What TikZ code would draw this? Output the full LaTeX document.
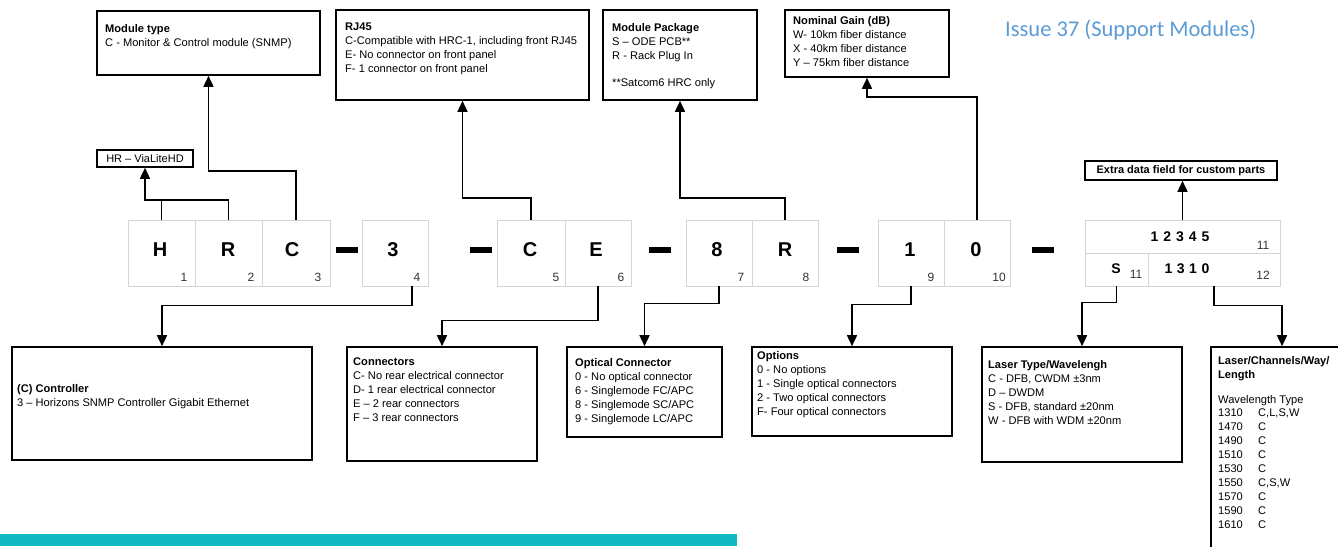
\documentclass[tikz,border=0pt]{standalone}
\usepackage{fontspec}
\setmainfont{Liberation Sans}
\newfontfamily\issuefont{Carlito}
\usetikzlibrary{arrows.meta,calc}
\definecolor{issueblue}{RGB}{91,155,213}
\definecolor{tealbar}{RGB}{13,184,192}
\definecolor{cellgray}{RGB}{212,212,212}
\begin{document}
\begin{tikzpicture}[x=1pt,y=-1pt,
  box/.style={draw=black, line width=1.6pt, fill=white, inner sep=0pt},
  cell/.style={draw=cellgray, line width=0.6pt, fill=white, inner sep=0pt, minimum height=66pt},
  halfcell/.style={draw=cellgray, line width=0.6pt, fill=white, inner sep=0pt, minimum height=33pt},
  letter/.style={font=\fontsize{20}{20}\selectfont\bfseries, inner sep=0pt},
  digits/.style={font=\fontsize{14}{14}\selectfont\bfseries, inner sep=0pt},
  subnum/.style={font=\fontsize{12}{12}\selectfont, text=black!80, inner sep=0pt},
  dashbar/.style={fill=black, inner sep=0pt, minimum width=22pt, minimum height=6pt},
  txt/.style={anchor=north west, inner sep=0pt, align=left, font=\fontsize{11.1}{14}\selectfont},
  arr/.style={line width=1.6pt, -{Triangle[width=10pt,length=11pt]}},
  plain/.style={line width=1.6pt}
]
\useasboundingbox (0,0) rectangle (1338,546);

% ---------- top boxes ----------
\node[box, minimum width=223pt, minimum height=64pt] (mt) at (208.5,43) {};
\node[txt] (mtt) at (105,24) {\textbf{Module type}\\C - Monitor \& Control module (SNMP)};

\node[box, minimum width=96pt, minimum height=17pt, font=\fontsize{11}{12}\selectfont] (hr) at (145,158.5) {HR -- ViaLiteHD};

\node[box, minimum width=253pt, minimum height=90pt] (rj) at (462.5,55) {};
\node[txt] (rjt) at (345,23) {\textbf{RJ45}\\C-Compatible with HRC-1, including front RJ45\\E- No connector on front panel\\F- 1 connector on front panel};

\node[box, minimum width=154pt, minimum height=90pt] (mp) at (680,55) {};
\node[txt] (mpt) at (612,23) {\textbf{Module Package}\\S -- ODE PCB**\\R - Rack Plug In\\[13pt]**Satcom6 HRC only};

\node[box, minimum width=164pt, minimum height=67pt] (ng) at (867,43.5) {};
\node[txt] (ngt) at (793,16) {\textbf{Nominal Gain (dB)}\\W- 10km fiber distance\\X - 40km fiber distance\\Y -- 75km fiber distance};

\node[box, minimum width=192pt, minimum height=19pt, font=\fontsize{11}{12}\selectfont\bfseries] (ex) at (1181,170.5) {Extra data field for custom parts};

\node[anchor=west, inner sep=0pt, font=\issuefont\fontsize{22.5}{24}\selectfont, text=issueblue] (issue) at (1005,30) {Issue 37 (Support Modules)};

% ---------- code cells ----------
\node[cell, minimum width=67pt] (b1) at (161.5,253) {};
\node[cell, minimum width=67pt] (b2) at (228.5,253) {};
\node[cell, minimum width=68pt] (b3) at (296,253) {};
\node[cell, minimum width=66pt] (b4) at (395,253) {};
\node[cell, minimum width=68pt] (b5) at (531,253) {};
\node[cell, minimum width=66pt] (b6) at (598,253) {};
\node[cell, minimum width=66pt] (b7) at (719,253) {};
\node[cell, minimum width=66pt] (b8) at (785,253) {};
\node[cell, minimum width=66pt] (b9) at (911,253) {};
\node[cell, minimum width=66pt] (b10) at (977,253) {};
\node[halfcell, minimum width=195pt] (bt) at (1182.5,236.5) {};
\node[halfcell, minimum width=63pt] (bs) at (1116.5,269.5) {};
\node[halfcell, minimum width=132pt] (bw) at (1214,269.5) {};

\node[letter] (l1) at (160,250) {H};
\node[letter] (l2) at (228,250) {R};
\node[letter] (l3) at (292,250) {C};
\node[letter] (l4) at (393,250) {3};
\node[letter] (l5) at (530,250) {C};
\node[letter] (l6) at (596,250) {E};
\node[letter] (l7) at (717,250) {8};
\node[letter] (l8) at (785,250) {R};
\node[letter] (l9) at (910,250) {1};
\node[letter] (l10) at (976,250) {0};

\node[subnum] (n1) at (184,277) {1};
\node[subnum] (n2) at (251,277) {2};
\node[subnum] (n3) at (318,277) {3};
\node[subnum] (n4) at (417,277) {4};
\node[subnum] (n5) at (556,277) {5};
\node[subnum] (n6) at (621,277) {6};
\node[subnum] (n7) at (741,277) {7};
\node[subnum] (n8) at (806,277) {8};
\node[subnum] (n9) at (931,277) {9};
\node[subnum] (n10) at (999,277) {10};

\node[digits] (dt) at (1180,237) {1\hspace{5pt}2\hspace{5pt}3\hspace{5pt}4\hspace{5pt}5};
\node[subnum] (n11a) at (1263,245) {11};
\node[digits] (ds) at (1116,269) {S};
\node[subnum] (n11b) at (1136,274) {11};
\node[digits] (dw) at (1187,269) {1\hspace{4.5pt}3\hspace{4.5pt}1\hspace{4.5pt}0};
\node[subnum] (n12) at (1263,275) {12};

% dashes
\node[dashbar] (s1) at (347,250) {};
\node[dashbar] (s2) at (481,250) {};
\node[dashbar] (s3) at (660,250) {};
\node[dashbar] (s4) at (848,250) {};
\node[dashbar] (s5) at (1043,250) {};

% ---------- bottom boxes ----------
\node[box, minimum width=300pt, minimum height=113pt] (ctl) at (162,403.5) {};
\node[txt] (ctlt) at (17,384) {\textbf{(C) Controller}\\3 -- Horizons SNMP Controller Gigabit Ethernet};

\node[box, minimum width=190pt, minimum height=114pt] (cn) at (442,404) {};
\node[txt] (cnt) at (353,358) {\textbf{Connectors}\\C- No rear electrical connector\\D- 1 rear electrical connector\\E -- 2 rear connectors\\F -- 3 rear connectors};

\node[box, minimum width=155pt, minimum height=90pt] (oc) at (644.5,392) {};
\node[txt] (oct) at (575,358) {\textbf{Optical Connector}\\0 - No optical connector\\6 - Singlemode FC/APC\\8 - Singlemode SC/APC\\9 - Singlemode LC/APC};

\node[box, minimum width=200pt, minimum height=89pt] (opt) at (852,391.5) {};
\node[txt] (optt) at (757,351) {\textbf{Options}\\0 - No options\\1 - Single optical connectors\\2 - Two optical connectors\\F- Four optical connectors};

\node[box, minimum width=200pt, minimum height=115pt] (lt) at (1082,404.5) {};
\node[txt] (ltt) at (988,360) {\textbf{Laser Type/Wavelengh}\\C - DFB, CWDM ±3nm\\D -- DWDM\\S - DFB, standard ±20nm\\W - DFB with WDM ±20nm};

\node[box, minimum width=142pt, minimum height=213pt] (lc) at (1282,453.5) {};
\node[txt] (lct) at (1218,356) {\textbf{Laser/Channels/Way/}\\\textbf{Length}};
\node[txt] (lch) at (1218,395) {Wavelength Type};
\node[txt] (lcn) at (1218,409) {1310\\1470\\1490\\1510\\1530\\1550\\1570\\1590\\1610};
\node[txt] (lcy) at (1258,409) {C,L,S,W\\C\\C\\C\\C\\C,S,W\\C\\C\\C};

% ---------- connectors ----------
\draw[plain] (b1.north) -- ++(0,-20);
\draw[arr] (b2.north) -- ++(0,-20) -| (hr.south);
\draw[arr] (b3.north) -- ++(0,-49) -| (mt.south);
\draw[arr] (b5.north) -- ++(0,-22) -| (rj.south);
\draw[arr] (b8.north) -- ++(0,-22) -| (mp.south);
\draw[arr] (b10.north) -- ++(0,-123) -| (ng.south);
\draw[arr] (bt.north) -- (bt.north |- ex.south);

\draw[arr] ($(b4.south)+(17,0)$) -- ++(0,19) -| (ctl.north);
\draw[arr] (b6.south) -- ++(0,34) -| (cn.north);
\draw[arr] (b7.south) -- ++(0,17) -| (oc.north);
\draw[arr] (b9.south) -- ++(0,18) -| (opt.north);
\draw[arr] (bs.south) -- ++(0,16) -| (lt.north);
\draw[arr] (bw.south) -- ++(0,19) -| (lc.north);

% teal bar
\fill[tealbar] (0,534) rectangle (737,546);
\end{tikzpicture}
\end{document}
